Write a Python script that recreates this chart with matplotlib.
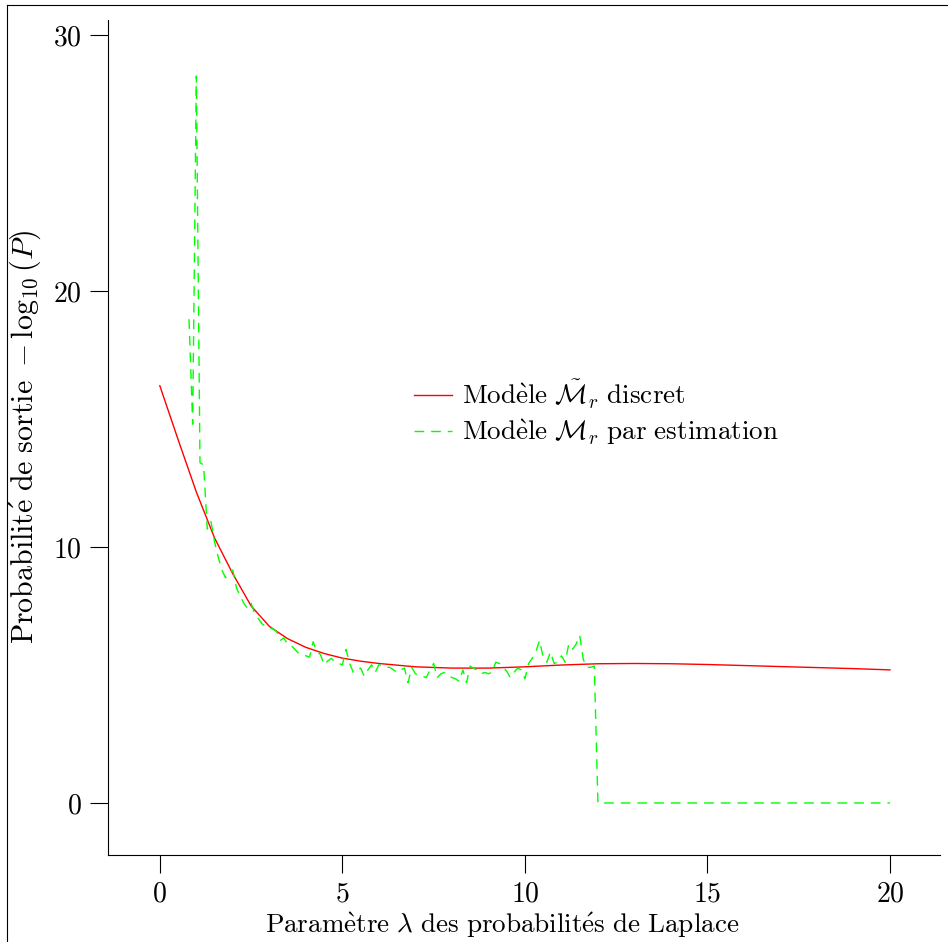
import numpy as np
import matplotlib
matplotlib.use("Agg")
import matplotlib.pyplot as plt
from matplotlib.lines import Line2D

plt.rcParams['font.family'] = 'serif'
plt.rcParams['font.serif'] = ['cmr10']
plt.rcParams['mathtext.fontset'] = 'cm'
plt.rcParams['axes.formatter.use_mathtext'] = True
plt.rcParams['font.size'] = 19

# modèle discret (courbe rouge)
red_x = [0, 0.5, 1, 1.5, 2, 2.5, 3, 3.5, 4, 4.5, 5, 5.5, 6, 7, 8, 9, 10, 11, 12,
         13, 14, 15, 16, 17, 18, 19, 20]
red_y = [16.3, 14.2, 12.15, 10.35, 8.95, 7.7, 6.9, 6.42, 6.08, 5.84, 5.66, 5.54,
         5.45, 5.32, 5.27, 5.27, 5.32, 5.39, 5.44, 5.45, 5.44, 5.41, 5.37, 5.33,
         5.29, 5.25, 5.2]

# modèle par estimation (courbe verte), pas de 0.1 de 0.8 à 11.9
green_y_noisy = [
    18.9, 14.8, 28.4, 13.3, 13.2, 10.7, 11.0, 10.2, 9.6, 9.1,      # 0.8 - 1.7
    8.8, 9.0, 9.1, 8.4, 8.1, 7.8, 7.6, 7.8, 7.4, 7.2,              # 1.8 - 2.7
    7.0, 6.9, 6.85, 6.8, 6.7, 6.35, 6.45, 6.2, 6.15, 6.0,          # 2.8 - 3.7
    5.85, 5.8, 5.75, 5.7, 6.3, 5.9, 5.8, 5.4, 5.55, 5.65,          # 3.8 - 4.7
    5.5, 5.45, 5.4, 6.0, 5.45, 5.1, 5.2, 5.27, 4.95, 5.2,          # 4.8 - 5.7
    5.4, 5.1, 5.4, 5.35, 5.3, 5.3, 5.2, 5.1, 5.2, 5.27,            # 5.8 - 6.7
    4.7, 5.3, 5.05, 5.0, 4.95, 4.9, 5.2, 5.45, 4.9, 5.05,          # 6.8 - 7.7
    5.1, 5.0, 4.9, 4.85, 4.75, 5.2, 4.7, 5.35, 5.25, 5.2,          # 7.8 - 8.7
    5.05, 5.1, 5.05, 5.1, 5.5, 5.45, 5.3, 5.15, 4.9, 5.1,          # 8.8 - 9.7
    5.27, 5.2, 4.85, 5.45, 5.65, 5.9, 6.35, 5.7, 5.5, 5.9,         # 9.8 - 10.7
    5.45, 5.5, 5.75, 5.5, 6.2, 6.0, 6.2, 6.55, 5.6, 5.3,           # 10.8 - 11.7
    5.3, 5.35,                                                     # 11.8 - 11.9
]
green_x = list(np.round(np.linspace(0.8, 11.9, len(green_y_noisy)), 1)) + [12.0, 20.0]
green_y = green_y_noisy + [0.0, 0.0]

fig = plt.figure(figsize=(9.48, 9.42), dpi=100)
ax = fig.add_axes([0.1139, 0.0924, 0.8777, 0.8864])

ax.plot(red_x, red_y, color='#ff0000', lw=1.0,
        label=r'$\mathrm{Mod\grave{e}le}\ \tilde{\mathcal{M}}_r\ \mathrm{discret}$')
ax.plot(green_x, green_y, color='#00ff00', lw=1.0, linestyle=(0, (7, 5)),
        label=r'$\mathrm{Mod\grave{e}le}\ \mathcal{M}_r\ \mathrm{par\ estimation}$')

ax.set_xlim(-1.42, 21.37)
ax.set_ylim(-2.03, 30.59)
ax.set_xticks([0, 5, 10, 15, 20])
ax.set_yticks([0, 10, 20, 30])
ax.spines['top'].set_visible(False)
ax.spines['right'].set_visible(False)
ax.tick_params(direction='out', length=13, width=0.8, pad=6, labelsize=20)

ax.set_xlabel(r'$\mathrm{Param\grave{e}tre}\ \lambda\ \mathrm{des\ probabilit\acute{e}s\ de\ Laplace}$',
              fontsize=19.5)
ax.xaxis.set_label_coords((502 - 108) / 832, -0.066)
ax.set_ylabel(r'$\mathrm{Probabilit\acute{e}\ de\ sortie}\ -\log_{10}(P)$',
              fontsize=21.5)
ax.yaxis.set_label_coords(-0.078, 0.5)

ax.legend(loc='upper left', bbox_to_anchor=(0.352, 0.587), frameon=False,
          fontsize=19.5, handlelength=1.4, handletextpad=0.35, borderpad=0,
          labelspacing=0.23)

# cadre partiel de la figure (haut et gauche)
fig.add_artist(Line2D([7 / 948, 1], [1 - 5 / 942, 1 - 5 / 942], color='black', lw=0.8))
fig.add_artist(Line2D([7 / 948, 7 / 948], [0, 1 - 5 / 942], color='black', lw=0.8))

fig.savefig('out.png', dpi=100)
